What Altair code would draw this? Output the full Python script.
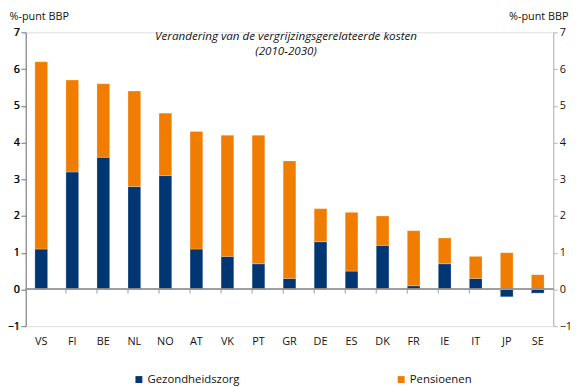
import altair as alt
import pandas as pd

countries = ["VS", "FI", "BE", "NL", "NO", "AT", "VK", "PT", "GR", "DE", "ES", "DK", "FR", "IE", "IT", "JP", "SE"]
health = [1.1, 3.2, 3.6, 2.8, 3.1, 1.1, 0.9, 0.7, 0.3, 1.3, 0.5, 1.2, 0.1, 0.7, 0.3, -0.2, -0.1]
pension = [5.1, 2.5, 2.0, 2.6, 1.7, 3.2, 3.3, 3.5, 3.2, 0.9, 1.6, 0.8, 1.5, 0.7, 0.6, 1.0, 0.4]
series = ["Gezondheidszorg", "Pensioenen"]
colors = ["#003671", "#F07D00"]
title_lines = ["Verandering van de vergrijzingsgerelateerde kosten", "(2010-2030)"]
y_ticks = [-1, 0, 1, 2, 3, 4, 5, 6, 7]

rows = []
for c, h, p in zip(countries, health, pension):
    rows.append({"land": c, "serie": series[0], "waarde": h, "volgorde": 0})
    rows.append({"land": c, "serie": series[1], "waarde": p, "volgorde": 1})
df = pd.DataFrame(rows)
tick_df = pd.DataFrame({"land": countries[1:]})

FONT = "Open Sans"
GRAY = "#b5b5b5"

x_enc = alt.X("land:N", sort=countries, scale=alt.Scale(paddingInner=0.59, paddingOuter=0.295),
              axis=alt.Axis(title=None, domain=False, ticks=False, labelAngle=0, labelPadding=10,
                            labelFontSize=11, labelColor="#111", labelFont=FONT))
y_scale = alt.Scale(domain=[-1, 7], nice=False)

def yaxis(orient, tx, align):
    return alt.Axis(orient=orient, values=y_ticks, grid=False, domainColor=GRAY, tickColor=GRAY,
                    tickSize=4, labelPadding=2, labelFontSize=11, labelColor="#111", labelFont=FONT,
                    title="%-punt BBP", titleAngle=0, titleX=tx, titleY=-22, titleAlign=align,
                    titleBaseline="top", titleFontWeight="normal", titleFontSize=11,
                    titleFont=FONT, titleColor="#111")

bars = alt.Chart(df).mark_bar(stroke="#ffffff", strokeOpacity=0.5, strokeWidth=0.5).encode(
    x=x_enc,
    y=alt.Y("sum(waarde):Q", scale=y_scale, axis=yaxis("left", -17, "left")),
    color=alt.Color("serie:N", sort=series,
                    scale=alt.Scale(domain=series, range=colors),
                    legend=alt.Legend(title=None, orient="none", direction="horizontal",
                                      legendX=109, legendY=346, symbolType="square",
                                      symbolSize=49, symbolStrokeWidth=0, columnPadding=158,
                                      labelOffset=3, labelFontSize=11.5, labelFont=FONT,
                                      labelColor="#111", labelLimit=200)),
    order=alt.Order("volgorde:Q"),
)

zero = alt.Chart(df).mark_rule(color="#9a9a9a", strokeWidth=1).encode(
    y=alt.datum(0, scale=y_scale, axis=yaxis("right", 15, "right"))
)

ticks = alt.Chart(tick_df).mark_rule(color="#9a9a9a", strokeWidth=1).encode(
    x=alt.X("land:N", sort=countries, bandPosition=0),
    y=alt.datum(0),
    y2=alt.datum(-0.11),
)

title = alt.Chart(pd.DataFrame({"t": [title_lines]})).mark_text(
    fontStyle="italic", fontSize=11.8, font=FONT, color="#111", align="center", baseline="top", lineHeight=15
).encode(text="t", x=alt.value(264), y=alt.value(-1))

chart = alt.layer(bars, zero, ticks, title).resolve_axis(y="independent").properties(
    width=535, height=298,
    autosize=alt.AutoSizeParams(type="none"),
    padding={"left": 18, "top": 22, "right": 19, "bottom": 59},
).configure_view(stroke=None).configure(font=FONT)

chart.save("out.html", embed_options={"renderer": "svg", "actions": False})
